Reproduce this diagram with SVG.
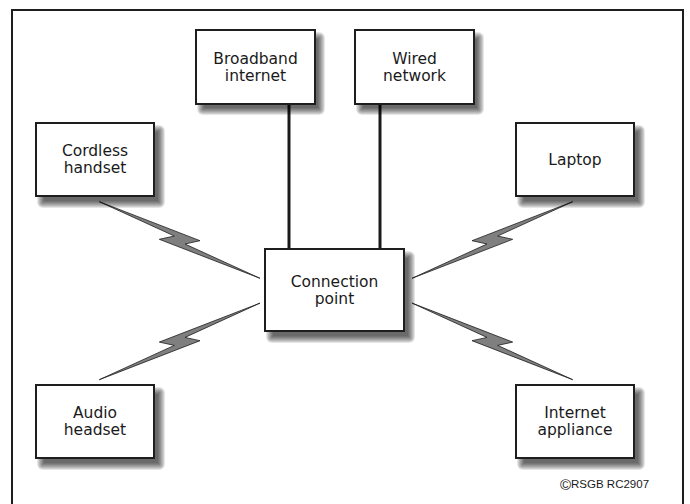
<svg xmlns="http://www.w3.org/2000/svg" xmlns:xlink="http://www.w3.org/1999/xlink" width="690" height="504" viewBox="0 0 690 504">
  <defs>
    <g id="shS" fill="#000" fill-opacity="0.1">
      <rect x="1" y="2" width="128" height="83" rx="6"/>
      <rect x="2" y="3" width="126" height="81" rx="5"/>
      <rect x="3" y="4" width="124" height="79" rx="4"/>
      <rect x="4" y="5" width="122" height="77" rx="3"/>
      <rect x="5" y="6" width="120" height="75" rx="2"/>
      <rect x="6" y="7" width="118" height="73"/>
      <rect x="7" y="8" width="116" height="71"/>
      <rect x="8" y="9" width="114" height="69"/>
    </g>
    <g id="shL" fill="#000" fill-opacity="0.1">
      <rect x="1" y="2" width="149" height="92" rx="6"/>
      <rect x="2" y="3" width="147" height="90" rx="5"/>
      <rect x="3" y="4" width="145" height="88" rx="4"/>
      <rect x="4" y="5" width="143" height="86" rx="3"/>
      <rect x="5" y="6" width="141" height="84" rx="2"/>
      <rect x="6" y="7" width="139" height="82"/>
      <rect x="7" y="8" width="137" height="80"/>
      <rect x="8" y="9" width="135" height="78"/>
    </g>
  </defs>
  <style>
    .box { fill: #fff; stroke: #1e1e1e; stroke-width: 2; }
    .lbl { font-family: "DejaVu Sans", "Noto Sans", sans-serif; font-size: 15.5px; fill: #1a1a1a; text-anchor: middle; }
    .wire { stroke: #1a1a1a; stroke-width: 3; fill: none; }
    .bolt { fill: #7f7f7f; stroke: #1e1e1e; stroke-width: 0.8; stroke-linejoin: miter; }
    .frame { fill: none; stroke: #1e1e1e; stroke-width: 2; }
    .copy { font-family: "Liberation Sans", Arial, sans-serif; font-size: 11.5px; fill: #1a1a1a; }
  </style>
  <rect width="690" height="504" fill="#fff"/>
  <path class="frame" d="M12,506 V10 H683 V506"/>

  <g id="connectors">
    <line class="wire" x1="289" y1="104" x2="289" y2="249"/>
    <line class="wire" x1="380" y1="104" x2="380" y2="249"/>
    <polygon class="bolt" points="99.3,201.7 200,240.7 185,244 260,278.3 159.3,239.3 174.3,236"/>
    <polygon class="bolt" points="99.3,379.7 200,340.7 185,337.4 260,303.1 159.3,342.1 174.3,345.4"/>
    <polygon class="bolt" points="572.7,201.7 472,240.7 487,244 412,278.3 512.7,239.3 497.7,236"/>
    <polygon class="bolt" points="572.7,379.7 472,340.7 487,337.4 412,303.1 512.7,342.1 497.7,345.4"/>
  </g>

  <g id="broadband">
    <use xlink:href="#shS" href="#shS" x="196" y="30"/>
    <rect class="box" x="196" y="30" width="119" height="74"/>
    <text class="lbl" x="255.5" y="63.5">Broadband</text>
    <text class="lbl" x="255.5" y="80.5">internet</text>
  </g>
  <g id="wired">
    <use xlink:href="#shS" href="#shS" x="355" y="30"/>
    <rect class="box" x="355" y="30" width="119" height="74"/>
    <text class="lbl" x="414.5" y="63.5">Wired</text>
    <text class="lbl" x="414.5" y="80.5">network</text>
  </g>
  <g id="cordless">
    <use xlink:href="#shS" href="#shS" x="36" y="123"/>
    <rect class="box" x="36" y="123" width="118" height="73"/>
    <text class="lbl" x="95" y="156">Cordless</text>
    <text class="lbl" x="95" y="173">handset</text>
  </g>
  <g id="laptop">
    <use xlink:href="#shS" href="#shS" x="516" y="123"/>
    <rect class="box" x="516" y="123" width="118" height="73"/>
    <text class="lbl" x="575" y="165">Laptop</text>
  </g>
  <g id="connection">
    <use xlink:href="#shL" href="#shL" x="265" y="249"/>
    <rect class="box" x="265" y="249" width="139" height="82"/>
    <text class="lbl" x="334.5" y="286.5">Connection</text>
    <text class="lbl" x="334.5" y="303.5">point</text>
  </g>
  <g id="audio">
    <use xlink:href="#shS" href="#shS" x="36" y="385"/>
    <rect class="box" x="36" y="385" width="118" height="73"/>
    <text class="lbl" x="95" y="418">Audio</text>
    <text class="lbl" x="95" y="435">headset</text>
  </g>
  <g id="appliance">
    <use xlink:href="#shS" href="#shS" x="516" y="385"/>
    <rect class="box" x="516" y="385" width="118" height="73"/>
    <text class="lbl" x="575" y="418">Internet</text>
    <text class="lbl" x="575" y="435">appliance</text>
  </g>

  <text class="copy" x="560" y="488"><tspan font-size="15" dy="1.5">©</tspan><tspan dy="-1.5">RSGB RC2907</tspan></text>
</svg>
